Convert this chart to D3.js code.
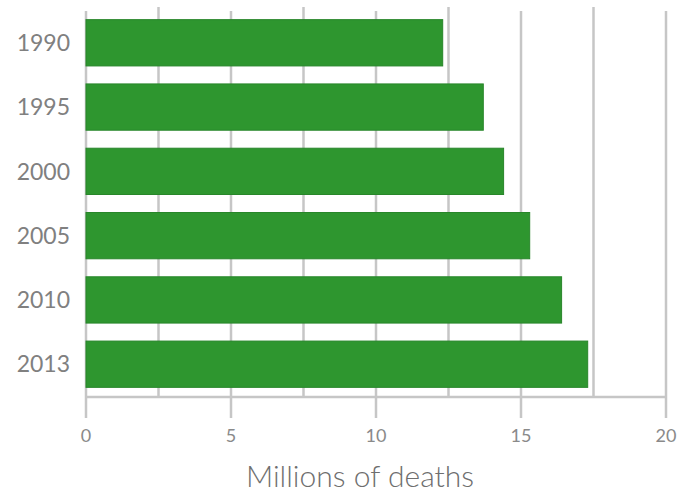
<!DOCTYPE html>
<html><head><meta charset="utf-8">
<script src="https://cdn.jsdelivr.net/npm/d3@7"></script>
<style>html,body{margin:0;padding:0;background:#fff;}svg{display:block;}</style>
</head><body>
<script>
const years = ["1990","1995","2000","2005","2010","2013"];
const deaths = [12.3, 13.7, 14.4, 15.3, 16.4, 17.3];
const majorTicks = [0, 5, 10, 15, 20];
const minorTicks = [2.5, 7.5, 12.5, 17.5];
const axisTitle = "Millions of deaths";

const W = 677, H = 492;
const svg = d3.select("body").append("svg").attr("width", W).attr("height", H);
const x = d3.scaleLinear().domain([0, 20]).range([86, 666]);
const y = d3.scaleBand().domain(years).range([10, 397]).paddingInner(0.28).paddingOuter(0.15);
const axisY = 397;
const grid = "#c6c6c6";
const font = "Lato, 'Open Sans', sans-serif";

// gridlines
svg.append("g").selectAll("line").data(majorTicks.concat(minorTicks)).join("line")
  .attr("x1", d => x(d)).attr("x2", d => x(d))
  .attr("y1", d => majorTicks.includes(d) ? 11 : 7)
  .attr("y2", d => majorTicks.includes(d) ? 418 : axisY)
  .attr("stroke", grid).attr("stroke-width", 2.5);

// axis baseline
svg.append("line").attr("x1", x(0)).attr("x2", x(20)).attr("y1", axisY).attr("y2", axisY)
  .attr("stroke", grid).attr("stroke-width", 2.5);

// bars
svg.append("g").selectAll("rect").data(years).join("rect")
  .attr("x", x(0)).attr("y", d => y(d))
  .attr("width", (d, i) => x(deaths[i]) - x(0))
  .attr("height", y.bandwidth())
  .attr("fill", "#2e962f").attr("stroke", "#28862a").attr("stroke-width", 1);

// year labels
svg.append("g").selectAll("text").data(years).join("text")
  .attr("x", 70).attr("y", d => y(d) + y.bandwidth() / 2)
  .attr("dy", "0.36em").attr("text-anchor", "end")
  .attr("font-family", font).attr("font-size", 23).attr("fill", "#808080")
  .text(d => d);

// tick labels
svg.append("g").selectAll("text").data(majorTicks).join("text")
  .attr("x", d => x(d)).attr("y", 442)
  .attr("text-anchor", "middle")
  .attr("font-family", font).attr("font-size", 18).attr("fill", "#8a8a8a")
  .text(d => d);

// axis title
svg.append("text").attr("x", 360).attr("y", 487).attr("text-anchor", "middle")
  .attr("font-family", font).attr("font-weight", 300).attr("font-size", 30).attr("fill", "#6e6e6e")
  .text(axisTitle);
</script>
</body></html>
